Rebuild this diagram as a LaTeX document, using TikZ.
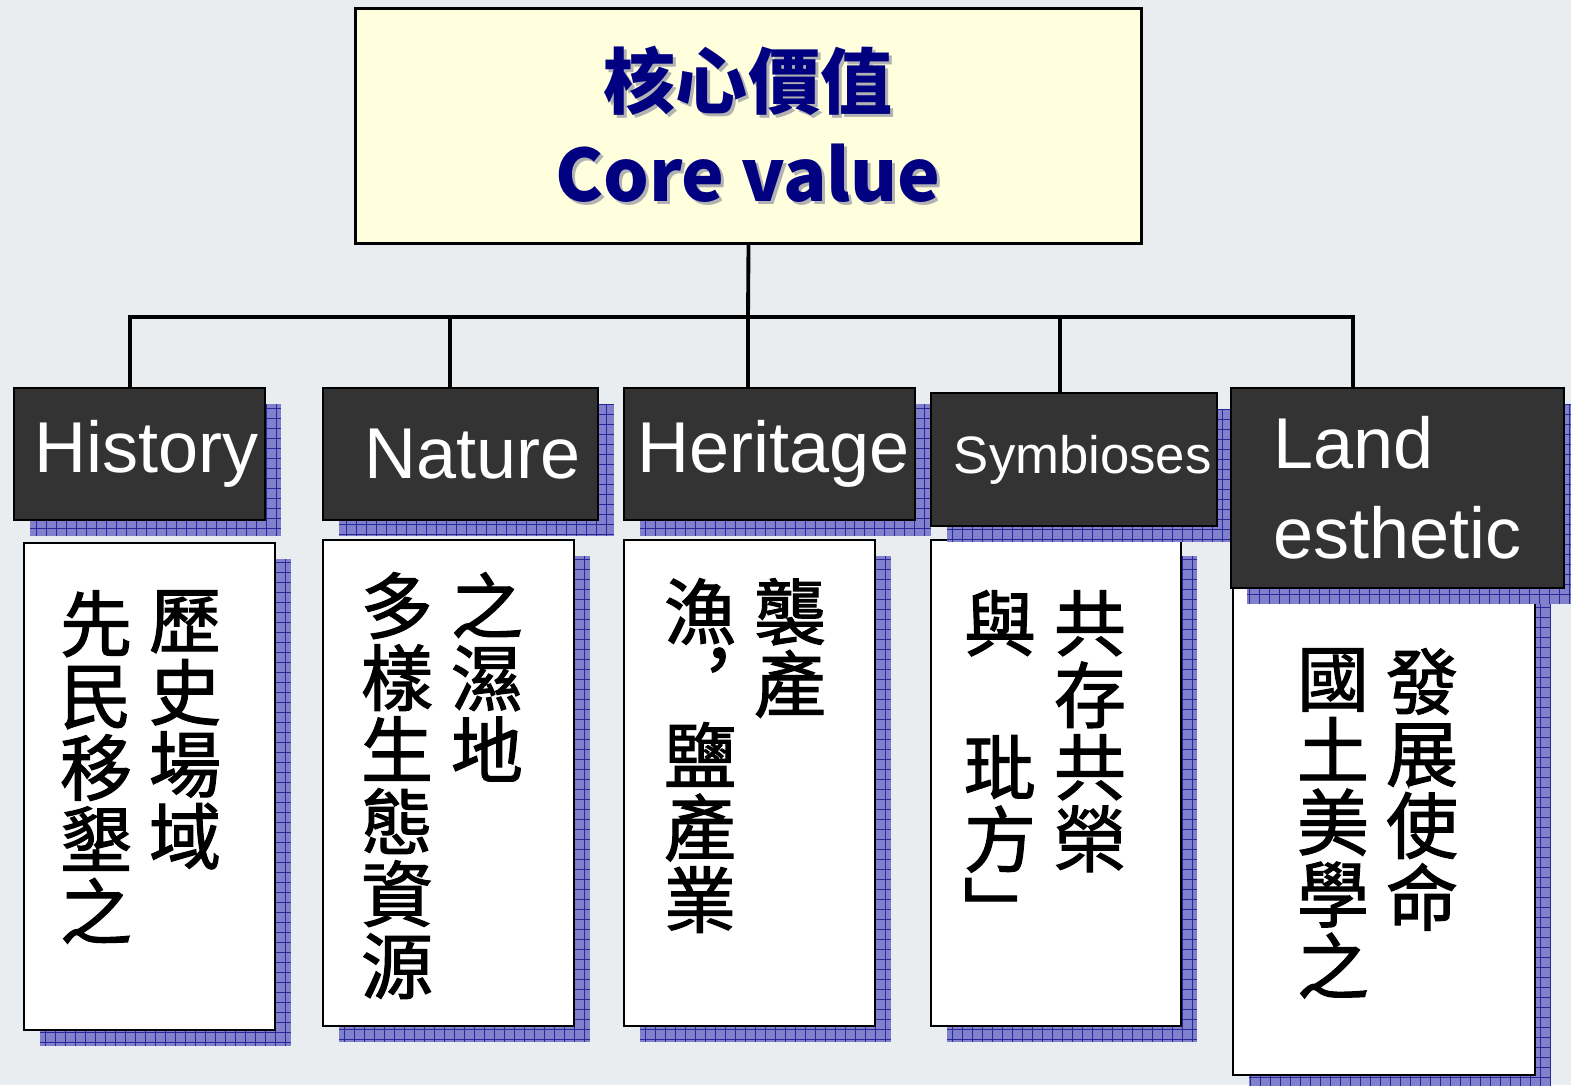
\documentclass[tikz,border=0pt]{standalone}
\usepackage{fontspec}
\setmainfont{Liberation Sans}
\newfontfamily\cjk{Noto Sans CJK TC}
\newfontfamily\cjkcol[FakeBold=1.6]{Noto Sans CJK TC}
\definecolor{paper}{RGB}{234,237,239}
\definecolor{cream}{RGB}{255,255,221}
\definecolor{corenavy}{RGB}{0,0,128}
\definecolor{headgray}{RGB}{51,51,51}
\definecolor{shadefill}{RGB}{128,128,204}
\definecolor{shadeline}{RGB}{40,40,150}

\def \colfont{\cjkcol\fontsize{41}{41}\selectfont\lineskiplimit=-20pt}
\def \corefont{\cjk\bfseries\fontsize{41}{53}\selectfont}

\begin{document}
\begin{tikzpicture}[x=0.02cm, y=-0.02cm,
  gridshadow/.style={preaction={fill=shadefill, transform canvas={shift={(16,16)}},
    path picture={\draw[shadeline, line width=0.5pt, step=0.2cm]
      (path picture bounding box.south west) grid (path picture bounding box.north east);}}},
  head/.style={gridshadow, draw=black, line width=1.1pt, fill=headgray, text=white,
    inner sep=0pt, font=\fontsize{41}{51}\selectfont},
  body/.style={gridshadow, draw=black, line width=1.1pt, fill=white, inner sep=0pt},
  column/.style={anchor=north, inner sep=0pt, align=center, font=\colfont},
  link/.style={line width=2.2pt, line cap=rect}]
\fill[paper] (0,0) rectangle (1571,1085);
\useasboundingbox (0,0) rectangle (1571,1085);

\node[draw=black, line width=1.7pt, fill=cream, minimum width=15.74cm, minimum height=4.72cm] (core) at (748.5,126) {};
\node[text=black!30, align=center, font=\corefont] (coreshade) at (751,127) {核心價值\\Core value};
\node[text=corenavy, align=center, font=\corefont] (coretext) at (748,124) {核心價值\\Core value};

\node[body, minimum width=5.02cm, minimum height=9.74cm] (historybox) at (149.5,786.5) {};
\node[body, minimum width=5.02cm, minimum height=9.72cm] (naturebox) at (448.5,783) {};
\node[body, minimum width=5.02cm, minimum height=9.72cm] (heritagebox) at (749.5,783) {};
\node[body, minimum width=5.0cm, minimum height=9.72cm] (symbiosesbox) at (1056,783) {};
\node[body, minimum width=6.04cm, minimum height=9.74cm] (landbox) at (1384,831.5) {};

\node[head, minimum width=5.02cm, minimum height=2.64cm] (history) at (139.5,454) {\hspace{8pt}History};
\node[head, minimum width=5.5cm, minimum height=2.64cm] (nature) at (460.5,454) {\hspace{14pt}Nature};
\node[head, minimum width=5.82cm, minimum height=2.64cm] (heritage) at (769.5,454) {\hspace{5pt}Heritage};
\node[head, minimum width=5.72cm, minimum height=2.66cm, font=\fontsize{30}{36}\selectfont] (symbioses) at (1074,459.5) {\hspace{10pt}Symbioses};
\node[head, minimum width=6.66cm, minimum height=4cm, align=left] (land) at (1397.5,488) {Land\\esthetic};

\node[column] (historyR) at (185,590) {歷\\史\\場\\域};
\node[column] (historyL) at (96,590) {先\\民\\移\\墾\\之};
\node[column] (natureR) at (487,572) {之\\濕\\地};
\node[column] (natureL) at (397,572) {多\\樣\\生\\態\\資\\源};
\node[column] (heritageR) at (790,578) {襲\\產};
\node[column] (heritageL) at (700,578) {漁\\︐\\鹽\\產\\業};
\node[column] (symbiosesR) at (1090,590) {共\\存\\共\\榮};
\node[column] (symbiosesL) at (1000,590) {與\\　\\玭\\方\\﹂};
\node[column] (landR) at (1422,648) {發\\展\\使\\命};
\node[column] (landL) at (1333,648) {國\\土\\美\\學\\之};

\coordinate (bus) at (748,317);
\coordinate (busW) at (130,317);
\coordinate (busE) at (1353,317);
\draw[link] (core.south) -- (bus);
\draw[link] (busW) -- (busE);
\foreach \n/\x in {history/130, nature/450, heritage/748, symbioses/1060, land/1353}{
  \coordinate (drop\n) at (\x,317);
  \draw[link] (drop\n) -- (drop\n |- \n.north);
}
\end{tikzpicture}
\end{document}
